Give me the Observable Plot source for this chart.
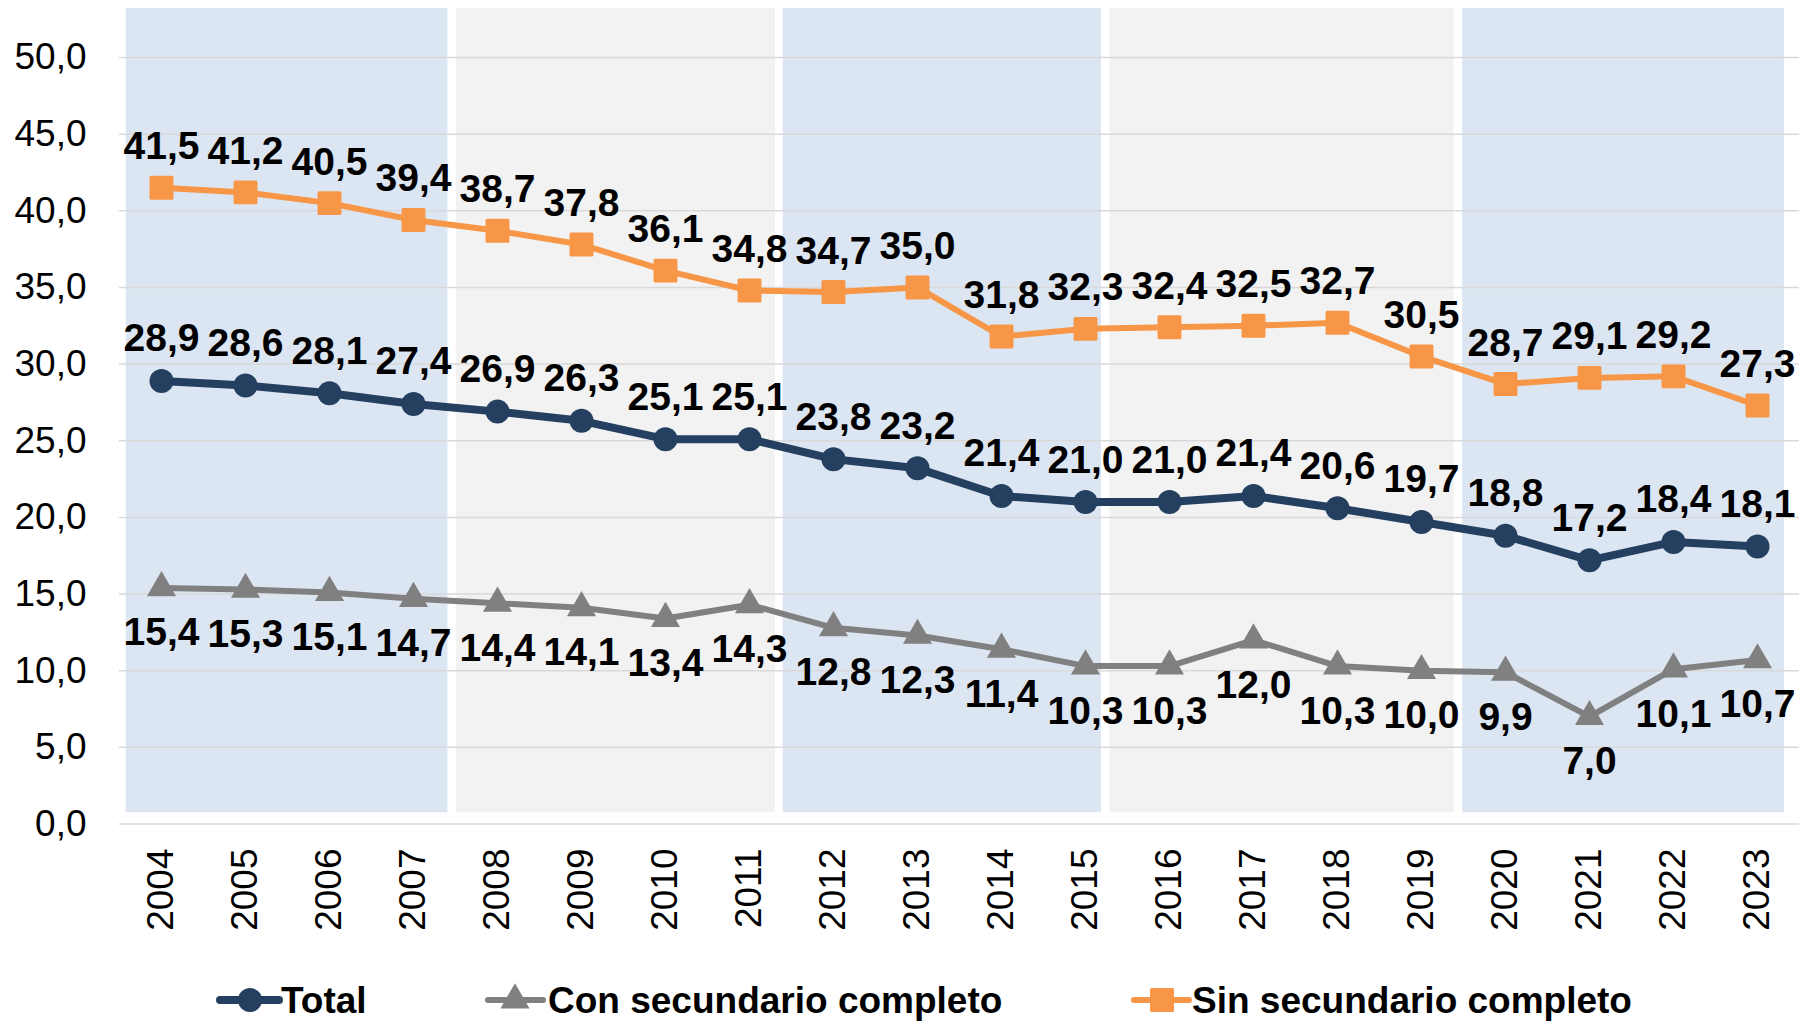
<!DOCTYPE html>
<html><head><meta charset="utf-8">
<script src="https://cdn.jsdelivr.net/npm/d3@7"></script>
<script src="https://cdn.jsdelivr.net/npm/@observablehq/plot@0.6"></script>
<style>
html,body{margin:0;padding:0;background:#fff;overflow:hidden;}
#chart{position:relative;width:1808px;height:1023px;overflow:hidden;}
svg{display:block}
</style></head><body><div id="chart"></div>
<script>
// ---- data ----
const years = [2004,2005,2006,2007,2008,2009,2010,2011,2012,2013,2014,2015,2016,2017,2018,2019,2020,2021,2022,2023];
const total = [28.9,28.6,28.1,27.4,26.9,26.3,25.1,25.1,23.8,23.2,21.4,21.0,21.0,21.4,20.6,19.7,18.8,17.2,18.4,18.1];
const conSecundario = [15.4,15.3,15.1,14.7,14.4,14.1,13.4,14.3,12.8,12.3,11.4,10.3,10.3,12.0,10.3,10.0,9.9,7.0,10.1,10.7];
const sinSecundario = [41.5,41.2,40.5,39.4,38.7,37.8,36.1,34.8,34.7,35.0,31.8,32.3,32.4,32.5,32.7,30.5,28.7,29.1,29.2,27.3];
const yTicks = [0,5,10,15,20,25,30,35,40,45,50];
const seriesNames = ["Total", "Con secundario completo", "Sin secundario completo"];
// background period bands (year units)
const bandStart = [2003.58, 2007.51, 2011.40, 2015.29, 2019.49];
const bandEnd   = [2007.41, 2011.31, 2015.19, 2019.39, 2023.32];
const frameStart = [2003.48, 2007.43, 2011.40, 2015.19, 2019.49];
const frameEnd   = [2007.42, 2011.40, 2015.19, 2019.49, 2023.42];
const bandKind = ["a","b","a","b","a"];

// ---- styles ----
const NAVY = "#243F60", GRAY = "#808080", ORANGE = "#F79646";
const BLUE_BAND = "#DCE6F2", GRAY_BAND = "#F2F2F2";
const FONT = "'Liberation Sans', Arial, Helvetica, sans-serif";
const fmt = v => v.toFixed(1).replace(".", ",");

const rowsT = years.map((y,i) => ({year: y, v: total[i]}));
const rowsC = years.map((y,i) => ({year: y, v: conSecundario[i]}));
const rowsS = years.map((y,i) => ({year: y, v: sinSecundario[i]}));
const bands = bandStart.map((s,i) => ({x1: s, x2: bandEnd[i], fx1: frameStart[i], fx2: frameEnd[i], kind: bandKind[i]}));

const labelOpts = {fontSize: 39, fontWeight: "bold", fill: "#000"};

const plot = Plot.plot({
  width: 1808, height: 960,
  marginLeft: 119, marginRight: 9, marginTop: 57, marginBottom: 136.5,
  style: {fontFamily: FONT, background: "white", color: "#000", overflow: "visible"},
  x: {type: "linear", domain: [2003.5, 2023.5]},
  y: {domain: [0, 50]},
  marks: [
    Plot.rect(bands, {x1: "fx1", x2: "fx2", y1: 0.23, y2: 53.7, fill: "white", ariaLabel: "band-frame"}),
    Plot.rect(bands, {x1: "x1", x2: "x2", y1: 0.73, y2: 53.2, fill: d => d.kind === "a" ? BLUE_BAND : GRAY_BAND}),
    Plot.gridY(yTicks, {stroke: "#d9d9d9", strokeOpacity: 1, strokeWidth: 1.5}),
    Plot.axisY(yTicks, {tickSize: 0, tickPadding: 33, tickFormat: fmt, fontSize: 37, fill: "#000", label: null}),
    Plot.axisX(years, {tickSize: 0, tickPadding: 24.5, tickRotate: -90, tickFormat: d => String(d), fontSize: 37, fill: "#000", label: null}),
    // Con secundario completo
    Plot.line(rowsC, {x: "year", y: "v", stroke: GRAY, strokeWidth: 6, strokeLinejoin: "round"}),
    Plot.dot(rowsC, {x: "year", y: "v", symbol: "triangle", r: 10.8, fill: GRAY}),
    Plot.text(rowsC, {x: "year", y: "v", text: d => fmt(d.v), dy: 45, ...labelOpts}),
    // Total
    Plot.line(rowsT, {x: "year", y: "v", stroke: NAVY, strokeWidth: 8, strokeLinejoin: "round"}),
    Plot.dot(rowsT, {x: "year", y: "v", symbol: "circle", r: 12, fill: NAVY}),
    Plot.text(rowsT, {x: "year", y: "v", text: d => fmt(d.v), dy: -42, ...labelOpts}),
    // Sin secundario completo
    Plot.line(rowsS, {x: "year", y: "v", stroke: ORANGE, strokeWidth: 6, strokeLinejoin: "round"}),
    Plot.dot(rowsS, {x: "year", y: "v", symbol: "square", r: 11.8, fill: ORANGE, stroke: ORANGE, strokeWidth: 3, strokeLinejoin: "round"}),
    Plot.text(rowsS, {x: "year", y: "v", text: d => fmt(d.v), dy: -41, ...labelOpts})
  ]
});

// drop shadow on band frames
const svg = d3.select(plot);
const defs = svg.insert("defs", ":first-child");
defs.append("filter").attr("id", "bandShadow").attr("x", "-5%").attr("y", "-5%").attr("width", "110%").attr("height", "110%")
  .append("feDropShadow").attr("dx", 1.5).attr("dy", 3.5).attr("stdDeviation", 2)
  .attr("flood-color", "#000").attr("flood-opacity", 0.45);
svg.selectAll('g[aria-label="band-frame"] rect').attr("filter", "url(#bandShadow)");

const chart = document.getElementById("chart");
chart.appendChild(plot);

// ---- legend (below the chart) ----
const legend = d3.select(chart).append("svg").attr("width", 1808).attr("height", 63)
  .style("font-family", FONT);
const items = [
  {name: seriesNames[0], color: NAVY, x0: 220, x1: 279, cx: 250, tx: 281, sym: d3.symbolCircle, r: 12, w: 8},
  {name: seriesNames[1], color: GRAY, x0: 488, x1: 543, cx: 515, tx: 548, sym: d3.symbolTriangle, r: 10.8, w: 6},
  {name: seriesNames[2], color: ORANGE, x0: 1134, x1: 1189, cx: 1162, tx: 1192, sym: d3.symbolSquare, r: 11.8, w: 6}
];
const ly = 40;
for (const it of items) {
  legend.append("line").attr("x1", it.x0).attr("x2", it.x1).attr("y1", ly).attr("y2", ly)
    .attr("stroke", it.color).attr("stroke-width", it.w).attr("stroke-linecap", "round");
  const p = legend.append("path").attr("d", d3.symbol(it.sym, Math.PI * it.r * it.r)())
    .attr("transform", `translate(${it.cx},${ly})`).attr("fill", it.color);
  if (it.sym === d3.symbolSquare) p.attr("stroke", it.color).attr("stroke-width", 3).attr("stroke-linejoin", "round");
  legend.append("text").attr("x", it.tx).attr("y", 53).attr("font-size", 37).attr("font-weight", "bold")
    .attr("fill", "#000").text(it.name);
}
</script></body></html>
